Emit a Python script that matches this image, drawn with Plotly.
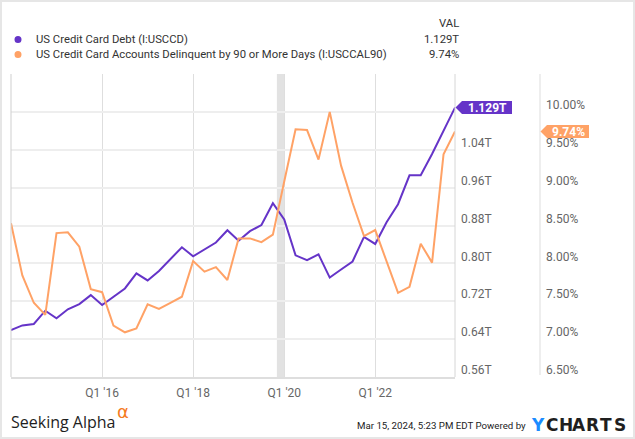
import plotly.graph_objects as go
import pandas as pd

# ---------------- data ----------------
quarters = pd.date_range("2014-03-31", periods=40, freq="QE").strftime("%Y-%m-%d").tolist()

debt_trillions = [0.659, 0.669, 0.672, 0.700, 0.684, 0.703, 0.714, 0.733,
                  0.712, 0.729, 0.747, 0.779, 0.764, 0.784, 0.808, 0.834,
                  0.815, 0.829, 0.844, 0.870, 0.848, 0.868, 0.881, 0.927,
                  0.893, 0.817, 0.807, 0.819, 0.770, 0.787, 0.804, 0.856,
                  0.841, 0.887, 0.925, 0.986, 0.986, 1.031, 1.079, 1.129]

delinq_pct = [8.53, 7.84, 7.48, 7.32, 8.40, 8.41, 8.22, 7.66,
              7.62, 7.18, 7.09, 7.14, 7.46, 7.40, 7.48, 7.56,
              8.03, 7.89, 7.95, 7.78, 8.33, 8.33, 8.28, 8.38,
              9.08, 9.77, 9.76, 9.37, 10.00, 9.29, 8.80, 8.36,
              8.44, 8.03, 7.61, 7.69, 8.26, 8.01, 9.44, 9.74]

x_tick_vals = ["2016-03-31", "2018-03-31", "2020-03-31", "2022-03-31"]
x_tick_text = ["Q1 '16", "Q1 '18", "Q1 '20", "Q1 '22"]

left_tick_vals = [0.56, 0.64, 0.72, 0.80, 0.88, 0.96, 1.04, 1.12, 1.20]
left_tick_text = ["0.56T", "0.64T", "0.72T", "0.80T", "0.88T", "0.96T", "1.04T", "", ""]

right_tick_vals = [6.5, 7.0, 7.5, 8.0, 8.5, 9.0, 9.5, 10.0]
right_tick_text = ["6.50%", "7.00%", "7.50%", "8.00%", "8.50%", "9.00%", "9.50%", "10.00%"]

recession = ("2020-02-01", "2020-03-31")

series_names = ["US Credit Card Debt (I:USCCD)",
                "US Credit Card Accounts Delinquent by 90 or More Days (I:USCCAL90)"]
series_vals = ["1.129T", "9.74%"]

PURPLE = "#6534c8"
ORANGE = "#ffa266"
FONT = "Roboto"

# ---------------- layout helpers (pixel -> paper) ----------------
W, H = 635, 439
ML, MR, MT, MB = 11, 35, 74, 62
PW = W - ML - MR
PH = H - MT - MB


def px(x):
    return (x - ML) / PW


def py(y):
    return (H - MB - y) / PH


fig = go.Figure()
fig.add_trace(go.Scatter(x=quarters, y=debt_trillions, mode="lines",
                         line=dict(color=PURPLE, width=2), yaxis="y",
                         name=series_names[0], hoverinfo="skip"))
fig.add_trace(go.Scatter(x=quarters, y=delinq_pct, mode="lines",
                         line=dict(color=ORANGE, width=2), yaxis="y2",
                         name=series_names[1], hoverinfo="skip"))

x_end = px(455)
sep2 = px(540)

shapes = []
shapes.append(dict(type="rect", xref="x", yref="paper", x0=recession[0], x1=recession[1],
                   y0=0, y1=1, fillcolor="#e2e2e2", line=dict(width=0), layer="below"))
shapes.append(dict(type="line", xref="paper", yref="paper", x0=0, x1=0, y0=0, y1=1,
                   line=dict(color="#cfcfcf", width=1)))
shapes.append(dict(type="line", xref="paper", yref="paper", x0=x_end, x1=x_end, y0=0, y1=1,
                   line=dict(color="#d6d6d6", width=1)))
shapes.append(dict(type="line", xref="paper", yref="paper", x0=sep2, x1=sep2, y0=py(375), y1=1,
                   line=dict(color="#dddddd", width=1)))
shapes.append(dict(type="rect", xref="paper", yref="paper", x0=px(1), x1=px(634), y0=py(438), y1=py(1),
                   line=dict(color="#e6e6e6", width=2), layer="above"))


def tag(x_tip, x_r0, x_r1, yval, yref, half_h, color):
    path = (f"M {x_tip},{yval} L {x_r0},{yval + half_h} L {x_r1},{yval + half_h} "
            f"L {x_r1},{yval - half_h} L {x_r0},{yval - half_h} Z")
    return dict(type="path", xref="paper", yref=yref, path=path,
                fillcolor=color, line=dict(width=0), layer="above")


left_range = [0.56, 1.20]
right_range = [6.5, 10.5]
hh_left = 6.5 / PH * (left_range[1] - left_range[0])
hh_right = 6.5 / PH * (right_range[1] - right_range[0])
shapes.append(tag(px(455.5), px(462), px(512), debt_trillions[-1], "y", hh_left, PURPLE))
shapes.append(tag(px(540.5), px(547), px(589), delinq_pct[-1], "y2", hh_right, ORANGE))

r = 3.5
for yy, col in [(39.5, PURPLE), (54.5, ORANGE)]:
    shapes.append(dict(type="circle", xref="paper", yref="paper",
                       x0=px(18 - r), x1=px(18 + r), y0=py(yy + r), y1=py(yy - r),
                       fillcolor=col, line=dict(width=0)))

annotations = []
annotations.append(dict(xref="paper", yref="y", x=px(487), y=debt_trillions[-1],
                        text=f"<b>{series_vals[0]}</b>", showarrow=False,
                        font=dict(family=FONT, size=12, color="white"), xanchor="center", yanchor="middle"))
annotations.append(dict(xref="paper", yref="y2", x=px(568), y=delinq_pct[-1],
                        text=f"<b>{series_vals[1]}</b>", showarrow=False,
                        font=dict(family=FONT, size=12, color="white"), xanchor="center", yanchor="middle"))

LEG = 11.3
annotations.append(dict(xref="paper", yref="paper", x=px(461), y=py(23.5), text="VAL",
                        showarrow=False, xanchor="right", yanchor="middle",
                        font=dict(family=FONT, size=LEG, color="#333333")))
for yy, name, val in [(39.5, series_names[0], series_vals[0]), (54.5, series_names[1], series_vals[1])]:
    annotations.append(dict(xref="paper", yref="paper", x=px(34), y=py(yy), text=name,
                            showarrow=False, xanchor="left", yanchor="middle",
                            font=dict(family=FONT, size=LEG, color="#333333")))
    annotations.append(dict(xref="paper", yref="paper", x=px(461), y=py(yy), text=val,
                            showarrow=False, xanchor="right", yanchor="middle",
                            font=dict(family=FONT, size=LEG, color="#333333")))

# footer
annotations.append(dict(xref="paper", yref="paper", x=px(9), y=py(421.5), text="Seeking Alpha",
                        showarrow=False, xanchor="left", yanchor="middle",
                        font=dict(family="Open Sans", size=16, color="#1e1e1e")))
annotations.append(dict(xref="paper", yref="paper", x=px(115), y=py(411.5), text="α",
                        showarrow=False, xanchor="left", yanchor="middle",
                        font=dict(family="DejaVu Sans", size=18, color="#f57c1f")))
annotations.append(dict(xref="paper", yref="paper", x=px(528), y=py(425), text="Mar 15, 2024, 5:23 PM EDT Powered by",
                        showarrow=False, xanchor="right", yanchor="middle",
                        font=dict(family=FONT, size=9.7, color="#222222")))
brand = "YCHARTS"
b0, b1 = 531.7, 626.7
step = (b1 - b0) / len(brand)
for i, ch in enumerate(brand):
    annotations.append(dict(xref="paper", yref="paper", x=px(b0 + step * (i + 0.5)), y=py(424.5),
                            text=ch, showarrow=False, xanchor="center", yanchor="middle",
                            font=dict(family="DejaVu Sans", size=17, weight="bold",
                                      color="#1a8cff" if i == 0 else "#1f1f1f")))

fig.update_layout(
    width=W, height=H,
    margin=dict(l=ML, r=MR, t=MT, b=MB),
    paper_bgcolor="white", plot_bgcolor="rgba(0,0,0,0)",
    showlegend=False,
    shapes=shapes, annotations=annotations,
    xaxis=dict(type="date", domain=[0, x_end], range=[quarters[0], quarters[-1]],
               tickvals=x_tick_vals, ticktext=x_tick_text, showgrid=True,
               gridcolor="#dedede", gridwidth=1, zeroline=False,
               showline=True, linecolor="#dedede", linewidth=2, ticks="",
               tickfont=dict(family=FONT, size=12, color="#666666"), ticklabelstandoff=4),
    yaxis=dict(range=left_range, side="right", anchor="x", tickvals=left_tick_vals,
               ticktext=left_tick_text, showgrid=True, gridcolor="#eeeeee", gridwidth=2,
               zeroline=False, ticks="", ticklabelshift=-7, ticklabelstandoff=5,
               tickfont=dict(family=FONT, size=12, color="#666666")),
    yaxis2=dict(range=right_range, overlaying="y", side="right", anchor="free", position=sep2,
                tickvals=right_tick_vals, ticktext=right_tick_text, showgrid=False,
                zeroline=False, ticks="", ticklabelshift=-7, ticklabelstandoff=5,
                tickfont=dict(family=FONT, size=12, color="#666666")),
)

fig.write_html("out.html", config={"displayModeBar": False},
               post_script="document.body.style.margin='0';")
